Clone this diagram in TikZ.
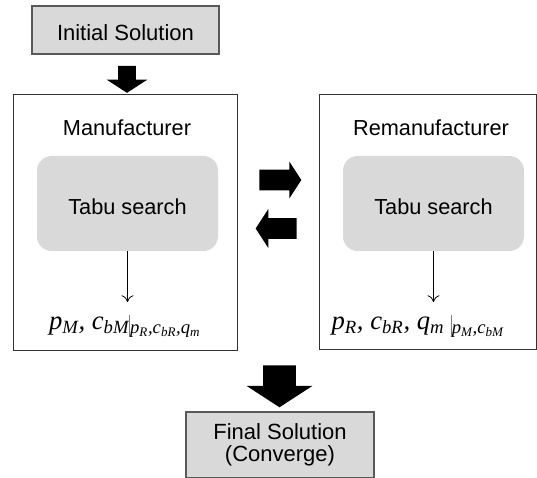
\documentclass[tikz,border=0pt]{standalone}
\usepackage{fontspec}
\setmainfont{Liberation Sans}
\newfontfamily\tnrfont{Liberation Serif}
\usepackage{xcolor}
\usetikzlibrary{shapes,arrows,positioning,arrows.meta}

\definecolor{boxgray}{HTML}{D9D9D9}
\definecolor{edgegray}{HTML}{595959}
\definecolor{barbrown}{HTML}{B07040}

% restriction bar of a best response
\newcommand{\givenbar}{\textcolor{barbrown}{\rule[-5pt]{0.6pt}{16pt}}}

\tikzset{
    solbox/.style={draw=edgegray, line width=0.9pt, fill=boxgray, align=center,
        font=\fontsize{16.5}{16.5}\selectfont},
    agentbox/.style={draw=black!80, line width=0.75pt},
    tabubox/.style={fill=boxgray, rounded corners=11pt, minimum width=135.75pt,
        minimum height=71.25pt, text height=16pt, text depth=0pt,
        font=\fontsize{16.3}{18}\selectfont},
    agentlabel/.style={font=\fontsize{16.3}{18}\selectfont},
    result/.style={font=\tnrfont\itshape\fontsize{20}{22}\selectfont, inner sep=0pt},
    blockarrow/.style={single arrow, fill=black, draw=none, inner xsep=0pt,
        single arrow tip angle=114, single arrow head indent=0pt},
}

\begin{document}
\begin{tikzpicture}[x=0.75pt, y=-0.75pt]
    \useasboundingbox (0,0) rectangle (537,478);

    % Start and end
    \node[solbox, minimum width=140.25pt, minimum height=36pt, text height=16pt, text depth=0pt] (init) at (125.5,30) {Initial Solution};
    \node[solbox, minimum width=141pt, minimum height=49.5pt] (final) at (280,445) {Final Solution\\(Converge)};

    % The two players
    \node[agentbox, minimum width=168pt, minimum height=192pt] (manu) at (125,223) {};
    \node[agentbox, minimum width=162.75pt, minimum height=191.25pt] (reman) at (427.5,222.5) {};

    \node[agentlabel] (manulabel) at (127,128) {Manufacturer};
    \node[agentlabel] (remanlabel) at (431,128) {Remanufacturer};

    \node[tabubox] (tabuL) at (127.5,203.5) {Tabu search};
    \node[tabubox] (tabuR) at (433.5,203.5) {Tabu search};

    % Best responses
    \node[result] (resL) at (125,326) {p\textsubscript{M}, c\textsubscript{bM}\givenbar\textsubscript{p\textsubscript{R},c\textsubscript{bR},q\textsubscript{m}}};
    \node[result] (resR) at (418,326) {p\textsubscript{R}, c\textsubscript{bR}, q\textsubscript{m} \givenbar\textsubscript{p\textsubscript{M},c\textsubscript{bM}}};

    \draw[-{To[length=5pt,width=9pt]}, line width=0.6pt] (tabuL.south) -- (tabuL.south |- 0,302);
    \draw[-{To[length=5pt,width=9pt]}, line width=0.6pt] (tabuR.south) -- (tabuR.south |- 0,302);

    % Block arrows
    \node[blockarrow, rotate=270, minimum height=20.25pt, minimum width=30pt, inner ysep=6.4pt,
        single arrow head extend=8.6pt] (downA) at (127,76.5) {};
    \node[blockarrow, minimum height=31.5pt, minimum width=27pt, inner ysep=7.5pt,
        single arrow head extend=6pt] (toR) at (277,180) {};
    \node[blockarrow, rotate=180, minimum height=30.75pt, minimum width=29pt, inner ysep=7.5pt,
        single arrow head extend=7pt] (toL) at (279.5,228.5) {};
    \node[blockarrow, rotate=270, minimum height=31.5pt, minimum width=48.75pt, inner ysep=12pt,
        single arrow head extend=12.4pt] (downB) at (279.5,381) {};
\end{tikzpicture}
\end{document}
